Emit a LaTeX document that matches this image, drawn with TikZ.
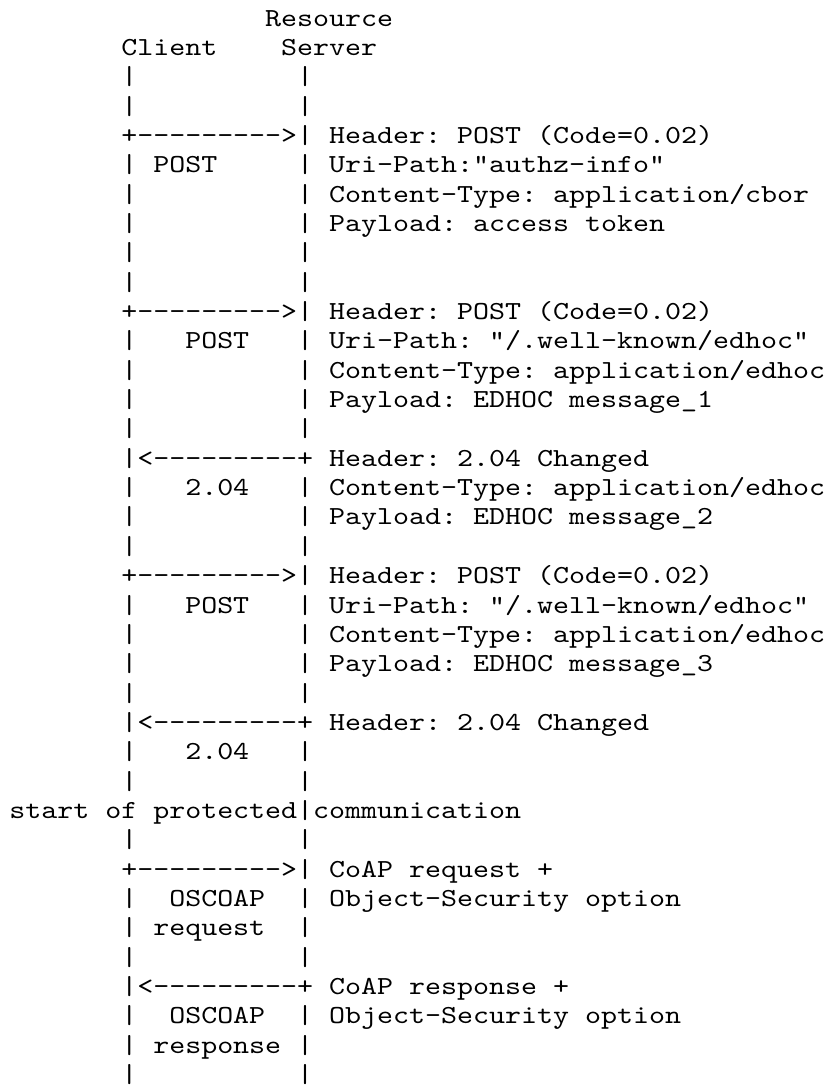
\documentclass[tikz,border=0pt]{standalone}
\usepackage{fontspec}
% slab-serif typewriter face, widened to a 16pt character cell
\newfontfamily\asciifont{lmmono10-regular.otf}[FakeStretch=1.172]
\frenchspacing
% blank character cells of the monospaced font
\newcommand\asciigap[1]{\hspace*{\dimexpr #1\fontcharwd\font32\relax}}
\tikzset{
  asciiline/.style={anchor=base west, inner sep=0pt, outer sep=0pt, text=black,
    font=\asciifont\fontsize{26pt}{29.35pt}\selectfont},
}
\begin{document}
\begin{tikzpicture}[x=16pt, y=-29.35pt]
  \useasboundingbox (0,0) rectangle (51.8125,37.0017);
  \begin{scope}[shift={(0.58,-0.114)}]
    % lifeline heads
    \node[asciiline] (r1)  at (0,1)  {\asciigap{16}Resource};
    \node[asciiline] (r2)  at (0,2)  {\asciigap{7}Client\asciigap{4}Server};
    \node[asciiline] (r3)  at (0,3)  {\asciigap{7}|\asciigap{10}|};
    \node[asciiline] (r4)  at (0,4)  {\asciigap{7}|\asciigap{10}|};
    % access token to authz-info
    \node[asciiline] (r5)  at (0,5)  {\asciigap{7}+--------->| Header: POST (Code=0.02)};
    \node[asciiline] (r6)  at (0,6)  {\asciigap{7}| POST\asciigap{5}| Uri-Path:"authz-info"};
    \node[asciiline] (r7)  at (0,7)  {\asciigap{7}|\asciigap{10}| Content-Type: application/cbor};
    \node[asciiline] (r8)  at (0,8)  {\asciigap{7}|\asciigap{10}| Payload: access token};
    \node[asciiline] (r9)  at (0,9)  {\asciigap{7}|\asciigap{10}|};
    \node[asciiline] (r10) at (0,10) {\asciigap{7}|\asciigap{10}|};
    % EDHOC message_1
    \node[asciiline] (r11) at (0,11) {\asciigap{7}+--------->| Header: POST (Code=0.02)};
    \node[asciiline] (r12) at (0,12) {\asciigap{7}|\asciigap{3}POST\asciigap{3}| Uri-Path: "/.well-known/edhoc"};
    \node[asciiline] (r13) at (0,13) {\asciigap{7}|\asciigap{10}| Content-Type: application/edhoc};
    \node[asciiline] (r14) at (0,14) {\asciigap{7}|\asciigap{10}| Payload: EDHOC message\_1};
    \node[asciiline] (r15) at (0,15) {\asciigap{7}|\asciigap{10}|};
    % EDHOC message_2
    \node[asciiline] (r16) at (0,16) {\asciigap{7}|<---------+ Header: 2.04 Changed};
    \node[asciiline] (r17) at (0,17) {\asciigap{7}|\asciigap{3}2.04\asciigap{3}| Content-Type: application/edhoc};
    \node[asciiline] (r18) at (0,18) {\asciigap{7}|\asciigap{10}| Payload: EDHOC message\_2};
    \node[asciiline] (r19) at (0,19) {\asciigap{7}|\asciigap{10}|};
    % EDHOC message_3
    \node[asciiline] (r20) at (0,20) {\asciigap{7}+--------->| Header: POST (Code=0.02)};
    \node[asciiline] (r21) at (0,21) {\asciigap{7}|\asciigap{3}POST\asciigap{3}| Uri-Path: "/.well-known/edhoc"};
    \node[asciiline] (r22) at (0,22) {\asciigap{7}|\asciigap{10}| Content-Type: application/edhoc};
    \node[asciiline] (r23) at (0,23) {\asciigap{7}|\asciigap{10}| Payload: EDHOC message\_3};
    \node[asciiline] (r24) at (0,24) {\asciigap{7}|\asciigap{10}|};
    \node[asciiline] (r25) at (0,25) {\asciigap{7}|<---------+ Header: 2.04 Changed};
    \node[asciiline] (r26) at (0,26) {\asciigap{7}|\asciigap{3}2.04\asciigap{3}|};
    \node[asciiline] (r27) at (0,27) {\asciigap{7}|\asciigap{10}|};
    % protected exchange
    \node[asciiline] (r28) at (0,28) {start of protected|communication};
    \node[asciiline] (r29) at (0,29) {\asciigap{7}|\asciigap{10}|};
    \node[asciiline] (r30) at (0,30) {\asciigap{7}+--------->| CoAP request +};
    \node[asciiline] (r31) at (0,31) {\asciigap{7}|\asciigap{2}OSCOAP\asciigap{2}| Object-Security option};
    \node[asciiline] (r32) at (0,32) {\asciigap{7}| request\asciigap{2}|};
    \node[asciiline] (r33) at (0,33) {\asciigap{7}|\asciigap{10}|};
    \node[asciiline] (r34) at (0,34) {\asciigap{7}|<---------+ CoAP response +};
    \node[asciiline] (r35) at (0,35) {\asciigap{7}|\asciigap{2}OSCOAP\asciigap{2}| Object-Security option};
    \node[asciiline] (r36) at (0,36) {\asciigap{7}| response |};
    \node[asciiline] (r37) at (0,37) {\asciigap{7}|\asciigap{10}|};
  \end{scope}
\end{tikzpicture}
\end{document}
